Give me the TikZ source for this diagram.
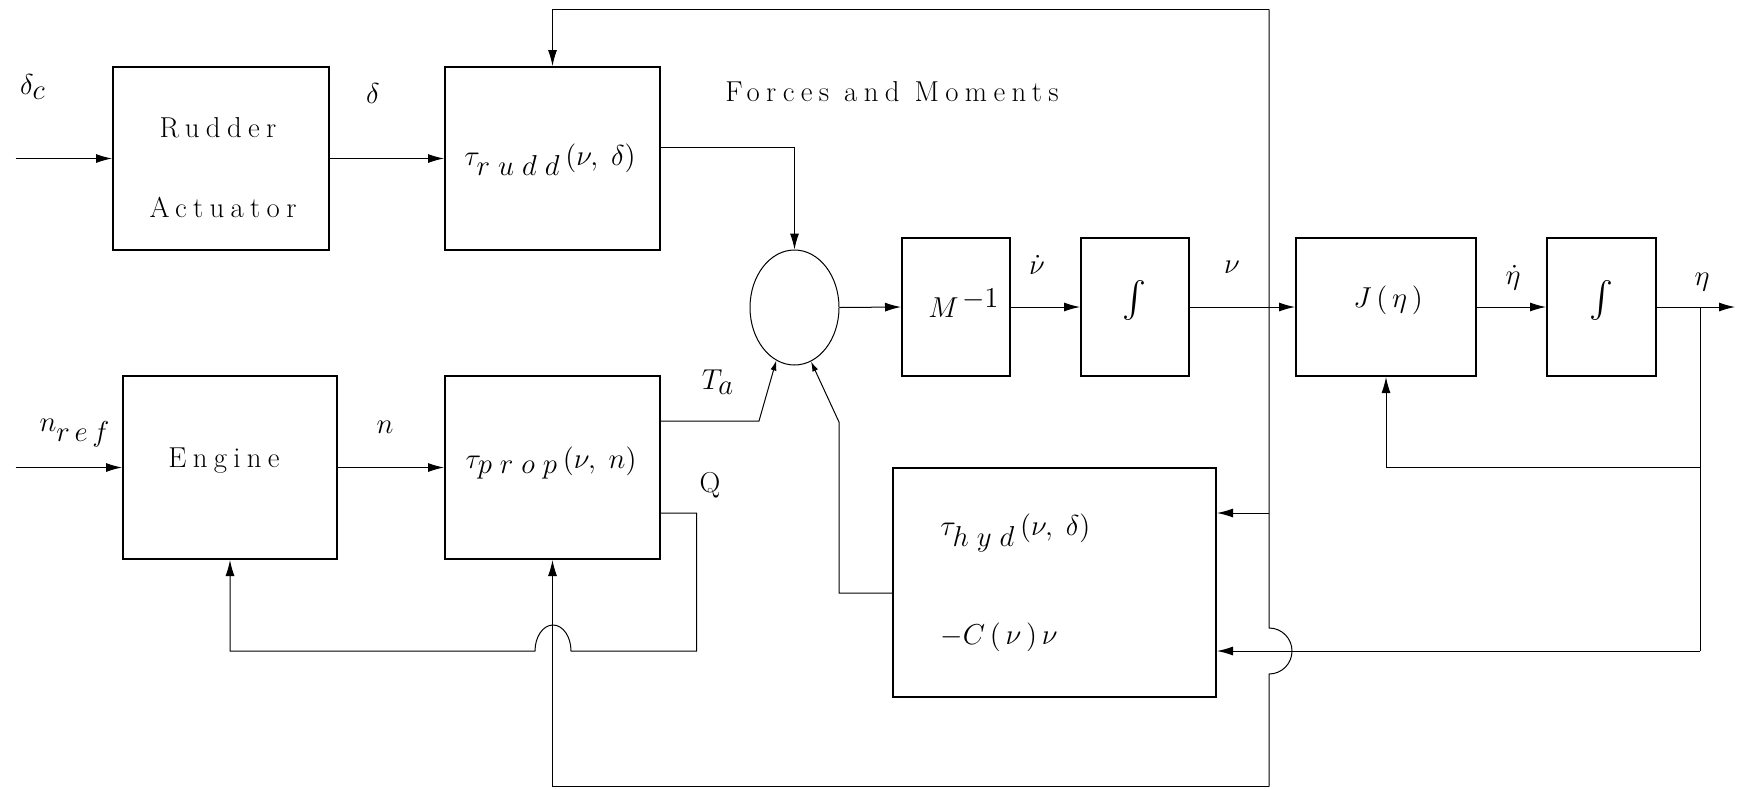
\documentclass[tikz,border=0pt]{standalone}
\usepackage{graphicx}
\usepackage{fontspec}
\newfontfamily\spacedrm[LetterSpace=22]{Latin Modern Roman}
\usetikzlibrary{arrows.meta,shapes.geometric}
\tikzset{
  block/.style={draw,line width=1pt,inner sep=0pt},
  wire/.style={line width=0.5pt},
  sig/.style={wire,-{Latex[length=8pt,width=4.5pt]}},
  sigsmall/.style={wire,-{Latex[length=5pt,width=3pt]}},
  lbl/.style={font=\Large\spacedrm,inner sep=0pt},
}
\newcommand{\bigint}{\scalebox{1.8}{$\int$}}
\begin{document}
\begin{tikzpicture}[x=0.5pt,y=-0.5pt]
  \useasboundingbox (0,0) rectangle (1739,788);
  % blocks
  \node[block,minimum width=108pt,minimum height=91.5pt] (rudder) at (221,158.5) {};
  \node[block,minimum width=107.5pt,minimum height=91.5pt] (rudd) at (552.5,158.5) {};
  \node[block,minimum width=107pt,minimum height=91.5pt] (engine) at (230,467.5) {};
  \node[block,minimum width=107.5pt,minimum height=91.5pt] (prop) at (552.5,467.5) {};
  \node[draw,wire,ellipse,inner sep=0pt,minimum width=44.5pt,minimum height=57.5pt] (sum) at (794.5,307.5) {};
  \node[block,minimum width=54pt,minimum height=69pt] (minv) at (956,307) {};
  \node[block,minimum width=54pt,minimum height=69pt] (int1) at (1135,307) {};
  \node[block,minimum width=90pt,minimum height=69pt] (jac) at (1386,307) {};
  \node[block,minimum width=54.5pt,minimum height=69pt] (int2) at (1601.5,307) {};
  \node[block,minimum width=161.5pt,minimum height=114.5pt] (hyd) at (1054.5,582.5) {};
  % texts
  \node[lbl] (dctxt) at (33,87) {$\delta_{\textstyle c}$};
  \node[lbl] (deltxt) at (373,93) {$\delta$};
  \node[lbl,anchor=base] (rudtxt) at (218,137) {Rudder};
  \node[lbl,anchor=base] (acttxt) at (223,217) {Actuator};
  \node[lbl] (ruddtxt) at (550,160) {$\tau_{\textstyle r\;u\;d\;d}\,(\nu,\;\delta)$};
  \node[lbl,anchor=base] (fmtxt) at (892,101) {Forces and Moments};
  \node[lbl] (tatxt) at (718,382) {$T_{\textstyle a}$};
  \node[lbl,anchor=base] (qtxt) at (710,492) {Q};
  \node[lbl] (nreftxt) at (75,433) {$n_{\textstyle r\,e\,f}$};
  \node[lbl] (ntxt) at (385,427) {$n$};
  \node[lbl,anchor=base] (engtxt) at (224,467) {Engine};
  \node[lbl] (proptxt) at (551,463) {$\tau_{\textstyle p\;r\;o\;p}\,(\nu,\;n)$};
  \node[lbl] (minvtxt) at (964,303) {$M^{\,\textstyle -1}$};
  \node[lbl] (int1txt) at (1134,300) {\bigint};
  \node[lbl] (nudtxt) at (1037,265) {$\dot{\nu}$};
  \node[lbl] (nutxt) at (1232,267) {$\nu$};
  \node[lbl] (jactxt) at (1388,300) {$J\,(\,\eta\,)$};
  \node[lbl] (int2txt) at (1601,300) {\bigint};
  \node[lbl] (etadtxt) at (1513,278) {$\dot{\eta}$};
  \node[lbl] (etatxt) at (1702,282) {$\eta$};
  \node[lbl,anchor=west] (hydtxt) at (940,533) {$\tau_{\textstyle h\;y\;d}\,(\nu,\;\delta)$};
  \node[lbl,anchor=west] (cortxt) at (940,637) {$-C\,(\,\nu\,)\,\nu$};
  % free ends and corners
  \coordinate (dcin) at (15.6,158.5);
  \coordinate (nrefin) at (15.5,467.5);
  \coordinate (takink) at (759,421);
  \coordinate (hydk1) at (839,593);
  \coordinate (hydk2) at (839,422);
  \coordinate (nutop) at (1269,9.3);
  \coordinate (nubot) at (1269,786.5);
  \coordinate (nuhop) at (1269,628);
  \coordinate (nuhyd) at (1269,513);
  \coordinate (etaout) at (1735,307);
  \coordinate (etabr) at (1700,307);
  \coordinate (etafb) at (1700,467);
  \coordinate (etalow) at (1700,651);
  \coordinate (qdown) at (696.5,651);
  \coordinate (qhop) at (571,651);
  % forward path
  \draw[sig] (dcin) -- (rudder.west);
  \draw[sig] (rudder.east) -- (rudd.west);
  \draw[sig] ([yshift=5.75pt]rudd.east) -| (sum.north);
  \draw[sig] (nrefin) -- (engine.west);
  \draw[sig] (engine.east) -- (prop.west);
  \draw[sigsmall] ([yshift=23.25pt]prop.east) -- (takink) -- (sum.251);
  \draw[sigsmall] ([yshift=-5.25pt]hyd.west) -- (hydk1) -- (hydk2) -- (sum.287);
  \draw[sig] (sum.east) -- (minv.west);
  \draw[sig] (minv.east) -- (int1.west);
  \draw[sig] (int1.east) -- (jac.west);
  \draw[sig] (jac.east) -- (int2.west);
  \draw[sig] (int2.east) -- (etaout);
  % nu feedback
  \draw[wire] (nutop) -- (nuhop) arc[start angle=90,end angle=-90,radius=11.5pt] -- (nubot);
  \draw[sig] (nutop) -| (rudd.north);
  \draw[sig] (nubot) -| (prop.south);
  \draw[sig] (nuhyd) -- (hyd.east |- nuhyd);
  % eta feedback
  \draw[wire] (etabr) -- (etalow);
  \draw[sig] (etalow) -- (hyd.east |- etalow);
  \draw[sig] (etafb) -| (jac.south);
  % torque Q to engine
  \draw[sig] ([yshift=-22.75pt]prop.east) -| (qdown) -- (qhop)
    arc[start angle=0,end angle=180,x radius=9pt,y radius=13pt]
    -- (engine.south |- qdown) -- (engine.south);
\end{tikzpicture}
\end{document}
